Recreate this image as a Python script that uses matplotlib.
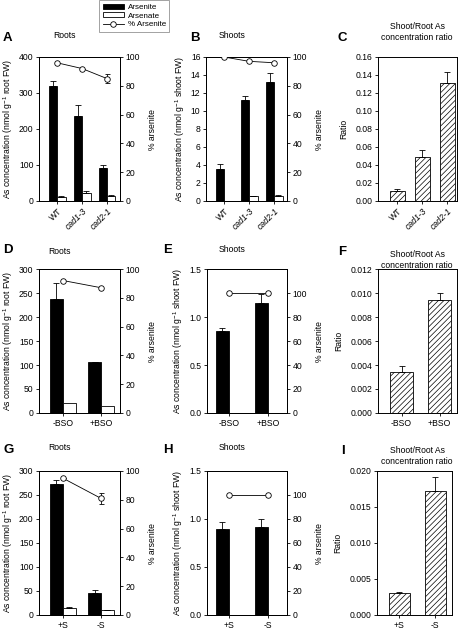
import numpy as np
import matplotlib
matplotlib.use('Agg')
import matplotlib.pyplot as plt
from matplotlib.patches import Patch
from matplotlib.lines import Line2D

plt.rcParams['font.family'] = ['Liberation Sans', 'DejaVu Sans']
plt.rcParams['mathtext.default'] = 'regular'
plt.rcParams['font.size'] = 6.2
plt.rcParams['axes.linewidth'] = 0.7
plt.rcParams['hatch.linewidth'] = 0.5

# ---- data ----
# row 1: mutants
mut_labels = ['WT', 'cad1-3', 'cad2-1']
a_arsenite = [320, 235, 91]
a_arsenite_err = [12, 33, 9]
a_arsenate = [12, 22, 15]
a_arsenate_err = [2, 6, 2]
a_pct = [96, 92, 85]
a_pct_err = [0, 0, 3]

b_arsenite = [3.6, 11.2, 13.2]
b_arsenite_err = [0.5, 0.5, 1.0]
b_arsenate = [0.02, 0.5, 0.6]
b_arsenate_err = [0.0, 0.05, 0.05]
b_pct = [100, 97, 96]

c_ratio = [0.011, 0.049, 0.131]
c_ratio_err = [0.002, 0.008, 0.012]

# row 2: BSO
bso_labels = ['-BSO', '+BSO']
d_arsenite = [238, 106]
d_arsenite_err = [33, 1]
d_arsenate = [20, 15]
d_pct = [92, 87]

e_arsenite = [0.85, 1.15]
e_arsenite_err = [0.04, 0.09]
e_arsenate = [0.0, 0.0]
e_pct = [100, 100]

f_ratio = [0.0034, 0.0094]
f_ratio_err = [0.0005, 0.0006]

# row 3: sulfur
s_labels = ['+S', '-S']
g_arsenite = [272, 45]
g_arsenite_err = [10, 7]
g_arsenate = [15, 10]
g_arsenate_err = [1, 1]
g_pct = [95, 81]
g_pct_err = [0, 4]

h_arsenite = [0.90, 0.92]
h_arsenite_err = [0.07, 0.08]
h_arsenate = [0.0, 0.0]
h_pct = [100, 100]

i_ratio = [0.0031, 0.0172]
i_ratio_err = [0.0001, 0.0019]

W, H = 462, 632
fig = plt.figure(figsize=(W / 100, H / 100), dpi=100)


def box(x0, y0, x1, y1):
    return fig.add_axes([x0 / W, 1 - y1 / H, (x1 - x0) / W, (y1 - y0) / H])


def style(ax):
    ax.tick_params(direction='out', length=2.5, width=0.6, pad=1.5, labelsize=6.2)


def conc_panel(ax, labels, ars, ars_err, arse, arse_err, pct, pct_err,
               ylim, yticks, yfmt, ylabel, pct_lim, xlim, bw, rot):
    x = np.arange(len(labels))
    ax.bar(x - bw / 2, ars, bw, color='black', edgecolor='black', linewidth=0.6, zorder=2)
    ax.bar(x + bw / 2, arse, bw, color='white', edgecolor='black', linewidth=0.6, zorder=2)
    ax.errorbar(x - bw / 2, ars, yerr=[np.zeros(len(ars)), ars_err], fmt='none',
                ecolor='black', elinewidth=0.6, capsize=2, capthick=0.6, zorder=3)
    if arse_err is not None:
        ax.errorbar(x + bw / 2, arse, yerr=[np.zeros(len(arse)), arse_err], fmt='none',
                    ecolor='black', elinewidth=0.6, capsize=2, capthick=0.6, zorder=3)
    ax.set_xlim(*xlim)
    ax.set_ylim(*ylim)
    ax.set_yticks(yticks)
    ax.set_yticklabels([yfmt.format(v) for v in yticks])
    ax.set_xticks(x)
    if rot:
        ax.set_xticklabels(labels, rotation=45, ha='right', rotation_mode='anchor')
        for t in ax.get_xticklabels()[1:]:
            t.set_fontstyle('italic')
    else:
        ax.set_xticklabels(labels)
    ax.set_ylabel(ylabel, labelpad=3)
    style(ax)
    ax2 = ax.twinx()
    ax2.errorbar(x, pct, yerr=pct_err, color='black', linewidth=0.6, marker='o',
                 markersize=4, markerfacecolor='white', markeredgecolor='black',
                 markeredgewidth=0.6, capsize=1.8, elinewidth=0.6, capthick=0.6, zorder=4)
    ax2.set_ylim(*pct_lim)
    ax2.set_yticks([0, 20, 40, 60, 80, 100])
    ax2.set_ylabel('% arsenite', labelpad=6)
    style(ax2)
    ax2.set_xlim(*xlim)
    return ax2


def ratio_panel(ax, labels, r, r_err, ylim, yticks, yfmt, xlim, bw, rot):
    x = np.arange(len(labels))
    ax.bar(x, r, bw, color='white', edgecolor='black', hatch='//////', linewidth=0.6, zorder=2)
    ax.errorbar(x, r, yerr=[np.zeros(len(r)), r_err], fmt='none', ecolor='black',
                elinewidth=0.6, capsize=2, capthick=0.6, zorder=3)
    ax.set_xlim(*xlim)
    ax.set_ylim(*ylim)
    ax.set_yticks(yticks)
    ax.set_yticklabels([yfmt.format(v) for v in yticks])
    ax.set_xticks(x)
    if rot:
        ax.set_xticklabels(labels, rotation=45, ha='right', rotation_mode='anchor')
        for t in ax.get_xticklabels()[1:]:
            t.set_fontstyle('italic')
    else:
        ax.set_xticklabels(labels)
    ax.set_ylabel('Ratio', labelpad=5)
    style(ax)


conc_lbl_root = 'As concentration (nmol g$^{-1}$ root FW)'
conc_lbl_shoot = 'As concentration (nmol g$^{-1}$ shoot FW)'

# row 1
axA = box(39, 57, 120, 201)
conc_panel(axA, mut_labels, a_arsenite, a_arsenite_err, a_arsenate, a_arsenate_err,
           a_pct, a_pct_err, (0, 400), [0, 100, 200, 300, 400], '{:g}', conc_lbl_root,
           (0, 100), (-0.72, 2.52), 0.34, True)
axB = box(206, 57, 287, 201)
conc_panel(axB, mut_labels, b_arsenite, b_arsenite_err, b_arsenate, b_arsenate_err,
           b_pct, None, (0, 16), list(range(0, 17, 2)), '{:g}', conc_lbl_shoot,
           (0, 100), (-0.72, 2.52), 0.34, True)
axC = box(378, 57, 457, 201)
ratio_panel(axC, mut_labels, c_ratio, c_ratio_err, (0, 0.16),
            np.arange(0, 0.161, 0.02), '{:.2f}', (-0.76, 2.4), 0.6, True)

# row 2
axD = box(39, 269, 120, 413)
conc_panel(axD, bso_labels, d_arsenite, d_arsenite_err, d_arsenate, None,
           d_pct, None, (0, 300), [0, 50, 100, 150, 200, 250, 300], '{:g}', conc_lbl_root,
           (0, 100), (-0.63, 1.5), 0.34, False)
axE = box(207, 269, 287, 413)
conc_panel(axE, bso_labels, e_arsenite, e_arsenite_err, e_arsenate, None,
           e_pct, None, (0, 1.5), [0.0, 0.5, 1.0, 1.5], '{:.1f}', conc_lbl_shoot,
           (0, 120), (-0.57, 1.5), 0.34, False)
axF = box(378, 269, 457, 413)
ratio_panel(axF, bso_labels, f_ratio, f_ratio_err, (0, 0.012),
            np.arange(0, 0.0121, 0.002), '{:.3f}', (-0.62, 1.46), 0.6, False)

# row 3
axG = box(39, 471, 120, 615)
conc_panel(axG, s_labels, g_arsenite, g_arsenite_err, g_arsenate, g_arsenate_err,
           g_pct, g_pct_err, (0, 300), [0, 50, 100, 150, 200, 250, 300], '{:g}', conc_lbl_root,
           (0, 100), (-0.63, 1.5), 0.34, False)
axH = box(207, 471, 287, 615)
conc_panel(axH, s_labels, h_arsenite, h_arsenite_err, h_arsenate, None,
           h_pct, None, (0, 1.5), [0.0, 0.5, 1.0, 1.5], '{:.1f}', conc_lbl_shoot,
           (0, 120), (-0.57, 1.5), 0.34, False)
axI = box(377, 471, 452, 615)
ratio_panel(axI, s_labels, i_ratio, i_ratio_err, (0, 0.020),
            np.arange(0, 0.0201, 0.005), '{:.3f}', (-0.62, 1.46), 0.6, False)


def ftext(x, y, s, **kw):
    fig.text(x / W, 1 - y / H, s, va='center', **kw)


for letter, x, y in [('A', 3, 38), ('B', 190, 38), ('C', 337, 38),
                     ('D', 3, 250), ('E', 163, 250), ('F', 338, 252),
                     ('G', 3, 450), ('H', 163, 450), ('I', 341, 451)]:
    ftext(x, y, letter, fontsize=9.5, fontweight='bold', ha='left')

for s, x, y in [('Roots', 65, 36), ('Shoots', 232, 36), ('Roots', 60, 251),
                ('Shoots', 232, 250), ('Roots', 60, 448), ('Shoots', 232, 448)]:
    ftext(x, y, s, fontsize=6.2, ha='center')

for x, y in [(417, 32), (417, 260), (417, 456)]:
    ftext(x, y, 'Shoot/Root As\nconcentration ratio', fontsize=6.2, ha='center',
          linespacing=1.25)

handles = [Patch(facecolor='black', edgecolor='black', linewidth=0.6),
           Patch(facecolor='white', edgecolor='black', linewidth=0.6),
           Line2D([0], [0], color='black', linewidth=0.6, marker='o', markersize=4,
                  markerfacecolor='white', markeredgewidth=0.6)]
leg = fig.legend(handles, ['Arsenite', 'Arsenate', '% Arsenite'], loc='upper left',
                 bbox_to_anchor=(99 / W, 1.0), fontsize=5.8, frameon=True, fancybox=False,
                 handlelength=2.6, handleheight=0.6, handletextpad=0.5, borderpad=0.45,
                 labelspacing=0.15, borderaxespad=0)
leg.get_frame().set_edgecolor('#777777')
leg.get_frame().set_linewidth(0.6)

fig.savefig('out.png', dpi=100)
